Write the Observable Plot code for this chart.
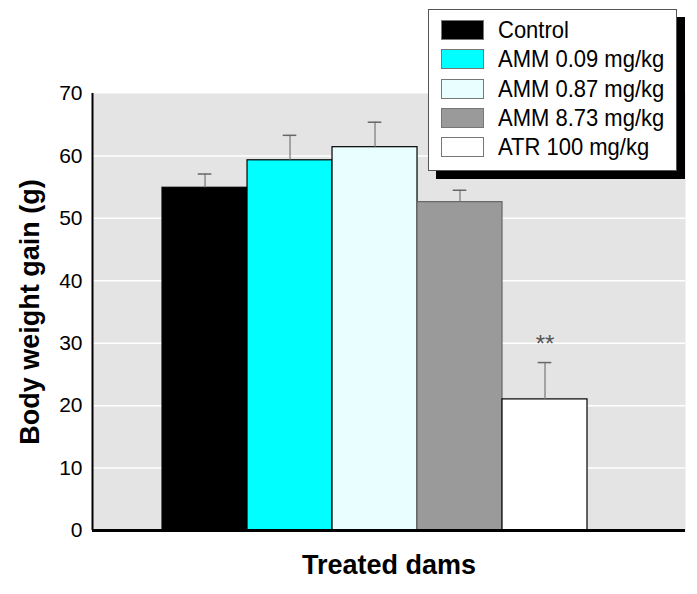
<!DOCTYPE html>
<html>
<head>
<meta charset="utf-8">
<script src="https://cdn.jsdelivr.net/npm/d3@7"></script>
<script src="https://cdn.jsdelivr.net/npm/@observablehq/plot@0.6"></script>
<style>
  body { margin: 0; background: #fff; }
  #wrap { position: relative; width: 697px; height: 594px; font-family: "Liberation Sans Narrow", "Arial Narrow", "Liberation Sans", sans-serif; }
  #legend { position: absolute; left: 428px; top: 9px; width: 247px; height: 160px; background: #fff; border: 1px solid #555; box-shadow: 8px 8px 0 #000; }
  .row { position: absolute; left: 12px; height: 22px; display: flex; align-items: center; }
  .sw { width: 43px; height: 20px; border: 1px solid #777; box-sizing: border-box; margin-right: 14px; }
  .lb { font-size: 22px; color: #000; white-space: nowrap; display: inline-block; transform: scaleY(1.08); }
</style>
</head>
<body>
<div id="wrap"><div id="legend"></div></div>
<script>
const groups = ["Control", "AMM 0.09 mg/kg", "AMM 0.87 mg/kg", "AMM 8.73 mg/kg", "ATR 100 mg/kg"];
const means = [54.9, 59.3, 61.4, 52.6, 21.0];
const errors = [2.2, 4.0, 4.0, 1.9, 5.9];
const marks = ["", "", "", "", "**"];
const fills = ["#000000", "#00ffff", "#e8feff", "#9a9a9a", "#ffffff"];
const strokes = ["#000000", "#000000", "#000000", "#666666", "#000000"];
const yTicks = [0, 10, 20, 30, 40, 50, 60, 70];

const data = groups.map((g, i) => ({g, i, mean: means[i], err: errors[i], top: means[i] + errors[i], mark: marks[i], fill: fills[i], stroke: strokes[i]}));
const xDomain = [-0.824, 6.153];
const font = "'Liberation Sans Narrow', 'Arial Narrow', 'Liberation Sans', sans-serif";

const chart = Plot.plot({
  width: 697,
  height: 594,
  marginLeft: 92,
  marginRight: 12,
  marginTop: 93,
  marginBottom: 64,
  style: {fontFamily: font, background: "transparent"},
  x: {type: "linear", domain: xDomain, axis: null},
  y: {domain: [0, 70], axis: null},
  marks: [
    Plot.frame({fill: "#e4e4e4", stroke: "none"}),
    Plot.ruleY(yTicks.filter(d => d > 0 && d < 70), {stroke: "#ffffff", strokeWidth: 1.5}),
    Plot.rectY(data, {x1: d => d.i, x2: d => d.i + 1, y1: 0, y2: "mean", fill: "fill", stroke: "stroke", strokeWidth: 1.2}),
    Plot.ruleX(data, {x: d => d.i + 0.5, y1: "mean", y2: "top", stroke: "#777", strokeWidth: 1.2}),
    Plot.ruleY(data, {y: "top", x1: d => d.i + 0.42, x2: d => d.i + 0.58, stroke: "#666", strokeWidth: 1.5}),
    Plot.text(data, {x: d => d.i + 0.5, y: "top", text: "mark", dy: -18, fontSize: 24, fill: "#555"}),
    Plot.ruleX([xDomain[0]], {stroke: "#000", strokeWidth: 2}),
    Plot.ruleY([0], {stroke: "#000", strokeWidth: 3}),
    Plot.text(yTicks, {x: xDomain[0], y: d => d, text: d => String(d), textAnchor: "end", dx: -10, fontSize: 21, fill: "#000"}),
    Plot.text(["Body weight gain (g)"], {frameAnchor: "left", textAnchor: "middle", rotate: -90, dx: -62, fontSize: 27, fontWeight: "bold", fill: "#000"}),
    Plot.text(["Treated dams"], {frameAnchor: "bottom", dy: 43, fontSize: 27, fontWeight: "bold", fill: "#000"})
  ]
});
const wrap = document.getElementById("wrap");
chart.style.position = "absolute";
chart.style.left = "0";
chart.style.top = "0";
wrap.insertBefore(chart, wrap.firstChild);

const legend = document.getElementById("legend");
groups.forEach((g, i) => {
  const row = document.createElement("div");
  row.className = "row";
  row.style.top = (9 + i * 29.3) + "px";
  const sw = document.createElement("div");
  sw.className = "sw";
  sw.style.background = fills[i];
  const lb = document.createElement("span");
  lb.className = "lb";
  lb.textContent = g;
  row.appendChild(sw);
  row.appendChild(lb);
  legend.appendChild(row);
});
</script>
</body>
</html>
